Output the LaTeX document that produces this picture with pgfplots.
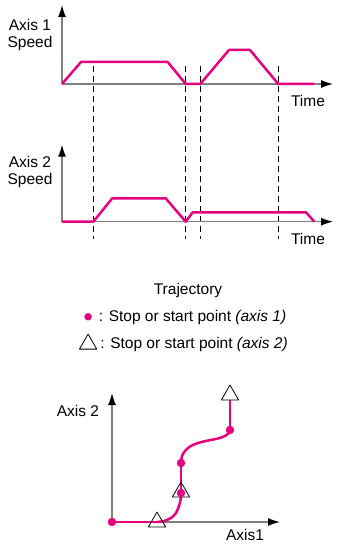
\documentclass[border=0pt]{standalone}
\usepackage{pgfplots}
\pgfplotsset{compat=1.18}
\usetikzlibrary{arrows.meta}
\usepackage{fontspec}
\setmainfont{Liberation Sans}

\definecolor{mag}{HTML}{E6007E}
\definecolor{axgray}{HTML}{808080}

\pgfplotsset{
  diag/.style={
    x=1bp, y=1bp, anchor=origin,
    axis lines=left, xmin=0, ymin=0,
    ticks=none, clip=false, enlargelimits=false,
    axis line style={axgray, line width=1.2bp,
      -{Latex[color=black, length=12bp, width=8bp]}},
    every axis plot/.append style={line join=round},
  },
  speed/.style={mag, line width=2.5bp, no markers},
  guide/.style={black, line width=0.8bp, dash pattern=on 6bp off 4bp, forget plot},
}

\begin{document}
\begin{tikzpicture}[font=\fontsize{15.5bp}{17bp}\selectfont]
\path[use as bounding box] (0,0) rectangle (338bp,544bp);

% axis 1 speed
\begin{axis}[diag, at={(62bp,460bp)}, xmax=271, ymax=79]
  \addplot[guide] coordinates {(31.3,18) (31.3,-155)};
  \addplot[guide] coordinates {(123.7,18) (123.7,-155)};
  \addplot[guide] coordinates {(138.3,18) (138.3,-155)};
  \addplot[guide] coordinates {(216.3,18) (216.3,-155)};
  \addplot[speed] coordinates {(0,0) (19,22) (105.7,22) (123.7,0) (138.3,0) (167,34) (188,34) (216.3,0) (252.3,0)};
\end{axis}

% axis 2 speed
\begin{axis}[diag, at={(62bp,322.3bp)}, xmax=271, ymax=77]
  \addplot[speed] coordinates {(0,0) (31.3,0) (50.3,23.4) (103.7,23.4) (123.7,0) (130.7,9.4) (244,9.4) (252.3,0)};
\end{axis}

% trajectory
\begin{axis}[diag, at={(112bp,22bp)}, xmax=168, ymax=129,
  legend style={draw=none, fill=none, inner sep=0pt,
    at={(axis description cs:-0.195,1.485)}, anchor=west,
    font=\fontsize{15.5bp}{17bp}\selectfont, row sep=9bp},
  legend cell align=left]
  \addplot[speed, forget plot] coordinates {(0,0) (45,0)};
  \addplot[speed, forget plot, smooth] coordinates {(45,0) (52,1) (59,4) (64,9) (67,16) (68.7,23) (69,29)};
  \addplot[speed, forget plot] coordinates {(69,29) (69,59)};
  \addplot[speed, forget plot, smooth] coordinates {(69,59) (70,66) (73,71) (78,75.5) (86,79) (96,81.5) (106,83.5) (113,86) (116.8,89) (118,92)};
  \addplot[speed, forget plot] coordinates {(118,92) (118,122)};
  \addplot[forget plot, only marks, mark=triangle, mark size=10bp, black, line width=0.8bp] coordinates {(45,0) (69,30) (118,127)};
  \addplot[forget plot, only marks, mark=*, mark size=4bp, mag] coordinates {(0,0) (69,29) (69,59) (118,92)};
  \addlegendimage{only marks, mark=*, mark size=3.5bp, mag}
  \addlegendentry{: Stop or start point \textit{(axis 1)}}
  \addlegendimage{only marks, mark=triangle, mark size=10bp, black, line width=0.8bp}
  \addlegendentry{\hspace{1.5bp}: Stop or start point \textit{(axis 2)}}
\end{axis}

\node[align=center] at (30bp,509.5bp) {Axis 1\\Speed};
\node at (308bp,443bp) {Time};
\node[align=center] at (30bp,372.5bp) {Axis 2\\Speed};
\node at (308bp,305bp) {Time};
\node at (188bp,254bp) {Trajectory};
\node at (78bp,133bp) {Axis 2};
\node at (245bp,9.5bp) {Axis1};
\end{tikzpicture}
\end{document}
